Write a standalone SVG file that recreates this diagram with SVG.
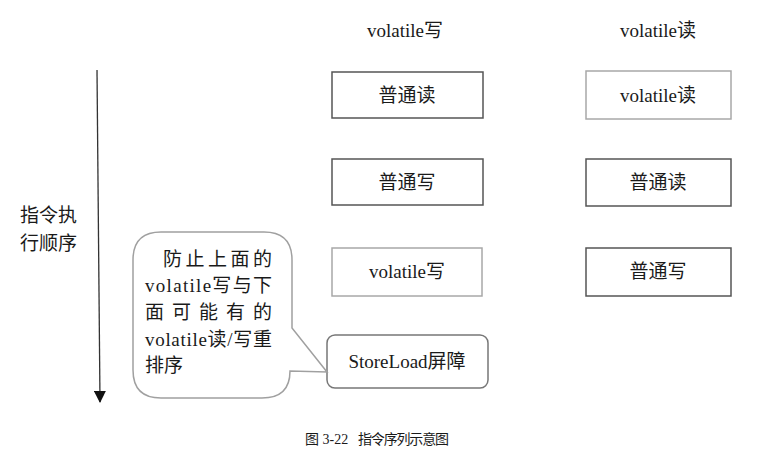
<svg xmlns="http://www.w3.org/2000/svg" width="758" height="452" viewBox="0 0 758 452">
  <defs>
    <marker id="arrowhead" markerWidth="12" markerHeight="12" refX="11" refY="6" orient="auto" markerUnits="userSpaceOnUse" viewBox="0 0 12 12">
      <path d="M0,0 L12,6 L0,12 Z" fill="#111"/>
    </marker>
    <style>
      text { font-family: "Liberation Serif", "Noto Sans CJK SC", serif; fill: #1a1a1a; }
      .lbl { font-size: 19px; text-anchor: middle; }
      .side { font-size: 19px; }
      .box-dark { fill: #fff; stroke: #555; stroke-width: 1.5; }
      .box-light { fill: #fff; stroke: #a8a8a8; stroke-width: 1.5; }
      .callout { fill: #fff; stroke: #a0a0a0; stroke-width: 1.5; }
      .barrier { fill: #fff; stroke: #777; stroke-width: 1.5; }
      .caption { font-size: 14px; }
    </style>
  </defs>

  <rect width="758" height="452" fill="#fff"/>

  <!-- column headings -->
  <text class="lbl" x="405" y="37">volatile写</text>
  <text class="lbl" x="658" y="37">volatile读</text>

  <!-- execution order arrow -->
  <g id="connectors">
    <line x1="97" y1="70" x2="100" y2="402" stroke="#333" stroke-width="1.3" marker-end="url(#arrowhead)"/>
  </g>
  <g id="order-label">
    <text class="side" x="20" y="222">指令执</text>
    <text class="side" x="20" y="250">行顺序</text>
  </g>

  <!-- volatile write column -->
  <g id="w-normal-read">
    <rect class="box-dark" x="332" y="72" width="151" height="46"/>
    <text class="lbl" x="407" y="102">普通读</text>
  </g>
  <g id="w-normal-write">
    <rect class="box-dark" x="332" y="159" width="151" height="46"/>
    <text class="lbl" x="407" y="189">普通写</text>
  </g>
  <g id="w-volatile-write">
    <rect class="box-light" x="332" y="248" width="150" height="48"/>
    <text class="lbl" x="407" y="278">volatile写</text>
  </g>
  <g id="storeload-barrier">
    <rect class="barrier" x="327" y="335" width="161" height="53" rx="8"/>
    <text class="lbl" x="407" y="368">StoreLoad屏障</text>
  </g>

  <!-- volatile read column -->
  <g id="r-volatile-read">
    <rect class="box-light" x="586" y="71" width="145" height="48"/>
    <text class="lbl" x="658" y="102">volatile读</text>
  </g>
  <g id="r-normal-read">
    <rect class="box-dark" x="586" y="159" width="145" height="47"/>
    <text class="lbl" x="658" y="189">普通读</text>
  </g>
  <g id="r-normal-write">
    <rect class="box-dark" x="586" y="248" width="145" height="48"/>
    <text class="lbl" x="658" y="278">普通写</text>
  </g>

  <!-- speech bubble pointing at the barrier -->
  <g id="note">
    <path class="callout" d="M161,232 H264 Q292,232 292,260 V328 L327,372 L290,371 Q290,398 262,398 H161 Q133,398 133,370 V260 Q133,232 161,232 Z"/>
    <text class="side" x="163" y="266" textLength="109" lengthAdjust="spacing">防止上面的</text>
    <text class="side" x="145" y="292" textLength="127" lengthAdjust="spacing">volatile写与下</text>
    <text class="side" x="145" y="319" textLength="127" lengthAdjust="spacing">面可能有的</text>
    <text class="side" x="145" y="346" textLength="127" lengthAdjust="spacing">volatile读/写重</text>
    <text class="side" x="145" y="372">排序</text>
  </g>

  <!-- caption -->
  <text class="caption" x="305" y="444">图 3-22</text>
  <text class="caption" x="358" y="444" textLength="91" lengthAdjust="spacing">指令序列示意图</text>
</svg>
